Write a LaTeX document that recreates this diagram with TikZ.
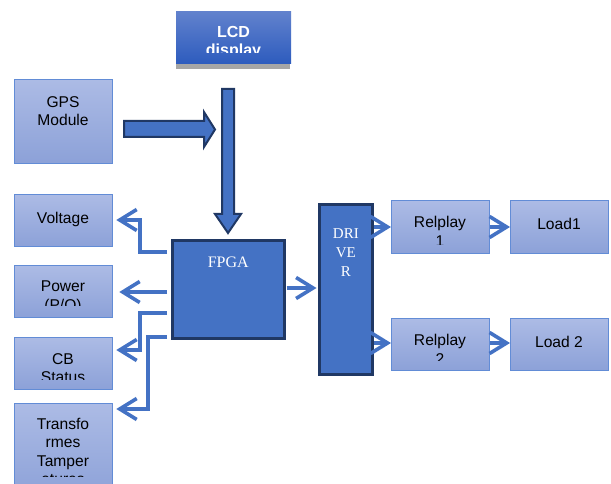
\documentclass[tikz,border=0pt]{standalone}
\usepackage{fontspec}
\setmainfont{Liberation Sans}
\newfontfamily\seriffont{Liberation Serif}
\usetikzlibrary{arrows.meta}
\definecolor{mainblue}{RGB}{68,114,196}
\definecolor{darkblue}{RGB}{32,56,100}
\definecolor{lighttop}{RGB}{172,187,229}
\definecolor{lightbot}{RGB}{140,161,216}
\definecolor{lightborder}{RGB}{98,140,214}
\definecolor{lcdtop}{RGB}{98,130,205}
\definecolor{lcdbot}{RGB}{46,92,190}
\definecolor{shadowgray}{RGB}{166,166,166}
\begin{document}
\begin{tikzpicture}[x=1pt,y=-1pt,
  lbox/.style={draw=lightborder, line width=1.3pt, top color=lighttop, bottom color=lightbot, inner sep=0pt, anchor=north west, minimum width=98pt},
  dbox/.style={draw=darkblue, line width=2.5pt, fill=mainblue, inner sep=0pt, anchor=north west},
  lcdbox/.style={top color=lcdtop, bottom color=lcdbot, inner sep=0pt, anchor=north west},
  btext/.style={anchor=north, inner sep=0pt, align=center, font=\fontsize{15.6}{18.5}\selectfont, execute at begin node=\strut},
  conn/.style={draw=mainblue, line width=3.6pt, -{Straight Barb[length=17pt,width=21pt]}},
  blockarrow/.style={draw=darkblue, line width=2pt, fill=mainblue, line join=miter}
]
\clip (0,0) rectangle (611,484);
\fill[white] (0,0) rectangle (611,484);

% boxes
\node[lbox, minimum height=84pt] (gps) at (14,79) {};
\node[lbox, minimum height=52pt] (voltage) at (14,194) {};
\node[lbox, minimum height=52pt] (power) at (14,265) {};
\node[lbox, minimum height=52pt] (cb) at (14,337) {};
\node[lbox, minimum height=95pt] (trans) at (14,403) {};
\node[lbox, minimum height=53pt] (rel1) at (391,200) {};
\node[lbox, minimum height=53pt] (load1) at (510,200) {};
\node[lbox, minimum height=52pt] (rel2) at (391,318) {};
\node[lbox, minimum height=52pt] (load2) at (510,318) {};
\fill[shadowgray] (176,63) rectangle (290,69);
\node[lcdbox, minimum width=115pt, minimum height=52pt] (lcd) at (176,11) {};

% texts
\node[btext] (gpst) at (63,96) {GPS\\Module};
\node[btext] (voltaget) at (63,210) {Voltage};
\begin{scope}\clip (14,265) rectangle (112,305);
\node[btext] (powert) at (63,281) {Power\\(P/O)};
\end{scope}
\begin{scope}\clip (14,337) rectangle (112,379);
\node[btext] (cbt) at (63,353) {CB\\Status};
\end{scope}
\begin{scope}\clip (14,403) rectangle (112,476);
\node[btext] (transt) at (63,418) {Transfo\\rmes\\Tamper\\atures};
\end{scope}
\begin{scope}\clip (391,200) rectangle (489,244);
\node[btext] (rel1t) at (440,216) {Relplay\\1};
\end{scope}
\node[btext] (load1t) at (559,216) {Load1};
\begin{scope}\clip (391,318) rectangle (489,360);
\node[btext] (rel2t) at (440,334) {Relplay\\2};
\end{scope}
\node[btext] (load2t) at (559,334) {Load 2};
\begin{scope}\clip (176,11) rectangle (291,53);
\node[btext, text=white, font=\fontsize{16}{18.5}\selectfont\bfseries] (lcdt) at (233.5,26) {LCD\\display};
\end{scope}

% block arrows
\draw[blockarrow] (124,121) -- (204,121) -- (204,112) -- (215,129.5) -- (204,147) -- (204,137) -- (124,137) -- cycle;
\draw[blockarrow] (222,89) -- (234,89) -- (234,214) -- (241,214) -- (228,233) -- (215,214) -- (222,214) -- cycle;

% processing blocks
\node[dbox, minimum width=112pt, minimum height=98pt] (fpga) at (171,239) {};
\node[anchor=north, inner sep=0pt, text=white, font=\seriffont\fontsize{16}{19}\selectfont, execute at begin node=\strut] (fpgat) at (fpga.north |- 0,254) {FPGA};
\node[dbox, minimum width=53pt, minimum height=170pt, line width=2.8pt] (driver) at (318,203) {};
\node[anchor=north, inner sep=0pt, align=center, text=white, font=\seriffont\fontsize{15}{19}\selectfont, execute at begin node=\strut] (drivert) at (driver.north |- 0,228) {DRI\\VE\\R};

% connectors
\draw[conn, shorten <=4pt, shorten >=3pt] (fpga.west |- 0,252) -- (140,252) -- (140,220) -- (voltage.east |- 0,220);
\draw[conn, shorten <=4pt, shorten >=6pt] (fpga.west |- 0,292) -- (power.east |- 0,292);
\draw[conn, shorten <=4pt, shorten >=3pt] (fpga.west |- 0,313) -- (140,313) -- (140,350) -- (cb.east |- 0,350);
\draw[conn, shorten <=4pt, shorten >=3pt] (fpga.west |- 0,337) -- (148,337) -- (148,409) -- (trans.east |- 0,409);
\draw[conn, shorten <=1pt, shorten >=1.5pt] (fpga.east |- 0,288) -- (driver.west |- 0,288);
\draw[conn] (driver.east |- 0,227) -- (rel1.west |- 0,227);
\draw[conn] (rel1.east |- 0,227) -- (load1.west |- 0,227);
\draw[conn] (driver.east |- 0,343) -- (rel2.west |- 0,343);
\draw[conn] (rel2.east |- 0,343) -- (load2.west |- 0,343);
\end{tikzpicture}
\end{document}
